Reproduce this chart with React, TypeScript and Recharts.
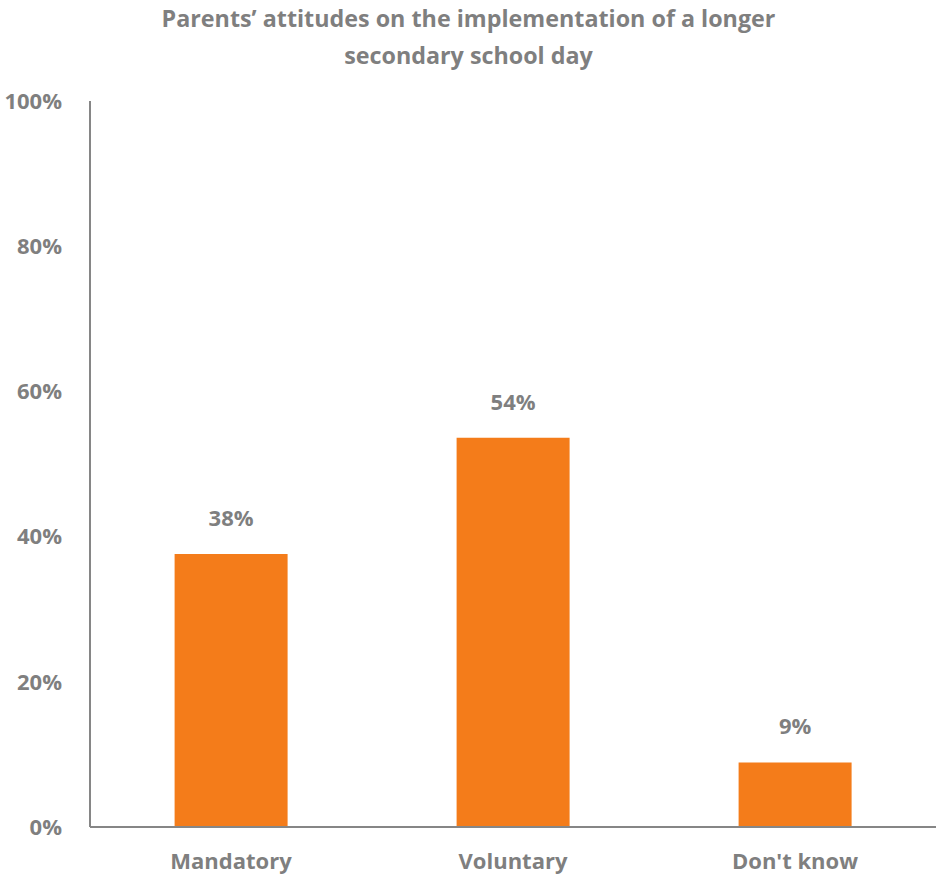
import React from "react";
import { BarChart, Bar, XAxis, YAxis, LabelList } from "recharts";

const categories = ["Mandatory", "Voluntary", "Don't know"];
const shares = [37.6, 53.6, 8.9];
const yTicks = [0, 20, 40, 60, 80, 100];

const data = categories.map((name, i) => ({ name, value: shares[i] }));

const GREY = "#7f7f7f";
const ORANGE = "#f47c1a";
const FONT = "'Open Sans', 'Noto Sans', sans-serif";

const ValueLabel = (props: any) => {
  const { x, y, width, value } = props;
  return (
    <text
      x={x + width / 2}
      y={y - 28}
      textAnchor="middle"
      fill={GREY}
      fontFamily={FONT}
      fontWeight={700}
      fontSize={22}
    >
      {`${Math.round(value)}%`}
    </text>
  );
};

const App: React.FC = () => {
  return (
    <div style={{ position: "absolute", left: 0, top: 0, width: 937, height: 879, background: "#fff" }}>
      <div
        style={{
          position: "absolute",
          left: 0,
          top: 0,
          width: 937,
          textAlign: "center",
          fontFamily: FONT,
          fontWeight: 700,
          fontSize: 23.3,
          lineHeight: "37px",
          color: GREY,
        }}
      >
        Parents’ attitudes on the implementation of a longer
        <br />
        secondary school day
      </div>
      <BarChart
        width={937}
        height={879}
        data={data}
        margin={{ top: 101, right: 1, bottom: 22, left: 0 }}
        barCategoryGap="30%"
      >
        <XAxis
          dataKey="name"
          height={30}
          axisLine={{ stroke: "#868686", strokeWidth: 2 }}
          tickLine={false}
          tickMargin={20}
          tick={{ fill: GREY, fontFamily: FONT, fontWeight: 700, fontSize: 22 }}
        />
        <YAxis
          width={90}
          domain={[0, 100]}
          ticks={yTicks}
          interval={0}
          tickFormatter={(v: number) => `${v}%`}
          axisLine={{ stroke: "#868686", strokeWidth: 2 }}
          tickLine={false}
          tickMargin={22}
          tick={{ fill: GREY, fontFamily: FONT, fontWeight: 700, fontSize: 22 }}
        />
        <Bar dataKey="value" fill={ORANGE} isAnimationActive={false}>
          <LabelList dataKey="value" content={ValueLabel} />
        </Bar>
      </BarChart>
    </div>
  );
};

export default App;
